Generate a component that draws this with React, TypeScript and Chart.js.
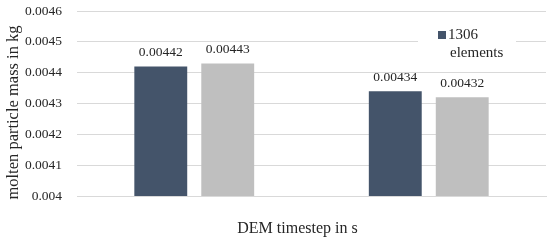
import React, { useEffect, useRef } from "react";
import { Chart, registerables } from "chart.js";
Chart.register(...registerables);

const categories = ["", ""];
const legendLines = ["1306", "elements"];
const series1Label = "1306 elements";
const series1 = [0.00442, 0.00434];
const series2Label = "";
const series2 = [0.00443, 0.00432];
const yMin = 0.004;
const yMax = 0.0046;
const yStep = 0.0001;
const yTitle = "molten particle mass in kg";
const xTitle = "DEM timestep in s";

const DARK = "#44546A";
const GRAY = "#BFBFBF";
const GRID = "#D9D9D9";
const TEXT = "#262626";
const FONT = "'Liberation Serif', serif";

const fmt = (v: number) => {
  let s = v.toFixed(5);
  s = s.replace(/0+$/, "");
  return s;
};

export default function App() {
  const ref = useRef<HTMLCanvasElement>(null);
  useEffect(() => {
    document.body.style.margin = "0";
    const canvas = ref.current!;
    const plugin = {
      id: "custom",
      afterDatasetsDraw(chart: any) {
        const ctx = chart.ctx;
        ctx.save();
        ctx.font = `13.5px ${FONT}`;
        ctx.fillStyle = TEXT;
        ctx.textAlign = "center";
        ctx.textBaseline = "bottom";
        chart.data.datasets.forEach((ds: any, i: number) => {
          const meta = chart.getDatasetMeta(i);
          meta.data.forEach((el: any, j: number) => {
            ctx.fillText(fmt(ds.data[j]), el.x, el.y - 7);
          });
        });
        ctx.restore();
      },
      afterDraw(chart: any) {
        const ctx = chart.ctx;
        const a = chart.chartArea;
        ctx.save();
        ctx.fillStyle = "#FFFFFF";
        ctx.fillRect(418, 22, 98, 46);
        ctx.fillStyle = DARK;
        ctx.fillRect(438, 31, 8, 8);
        ctx.fillStyle = TEXT;
        ctx.font = `15px ${FONT}`;
        ctx.textAlign = "left";
        ctx.textBaseline = "alphabetic";
        ctx.fillText(legendLines[0], 448, 39);
        ctx.fillText(legendLines[1], 450, 57);
        ctx.font = `16px ${FONT}`;
        ctx.textAlign = "center";
        ctx.textBaseline = "middle";
        ctx.fillText(xTitle, (a.left + a.right) / 2 - 14, 229);
        // y title
        ctx.font = `16.5px ${FONT}`;
        ctx.translate(14, (a.top + a.bottom) / 2 + 9);
        ctx.rotate(-Math.PI / 2);
        ctx.fillText(yTitle, 0, 0);
        ctx.restore();
      },
    };
    const chart = new Chart(canvas, {
      type: "bar",
      data: {
        labels: categories,
        datasets: [
          { label: series1Label, data: series1, backgroundColor: DARK },
          { label: series2Label, data: series2, backgroundColor: GRAY },
        ],
      },
      options: {
        animation: false,
        responsive: false,
        maintainAspectRatio: false,
        layout: { padding: { left: 0, right: 4, top: 11, bottom: 0 } },
        datasets: {
          bar: { categoryPercentage: 0.571, barPercentage: 0.79 },
        },
        plugins: {
          legend: { display: false },
          tooltip: { enabled: false },
        },
        scales: {
          x: {
            grid: { display: false, drawTicks: false },
            border: { display: true, color: GRID },
            ticks: { display: false },
            afterFit: (s: any) => {
              s.height = 47;
            },
          },
          y: {
            min: yMin,
            max: yMax,
            grid: { color: GRID, drawTicks: false },
            border: { display: false },
            ticks: {
              stepSize: yStep,
              padding: 15,
              color: TEXT,
              font: { family: FONT, size: 13.5 },
              callback: (v: any) => fmt(Number(v)),
            },
            title: { display: false },
            afterFit: (s: any) => {
              s.width = 77;
              s.paddingTop = 0;
              s.paddingBottom = 0;
            },
          },
        },
      },
      plugins: [plugin],
    });
    return () => chart.destroy();
  }, []);
  return (
    <div style={{ width: 550, height: 243 }}>
      <canvas ref={ref} width={550} height={243} />
    </div>
  );
}
